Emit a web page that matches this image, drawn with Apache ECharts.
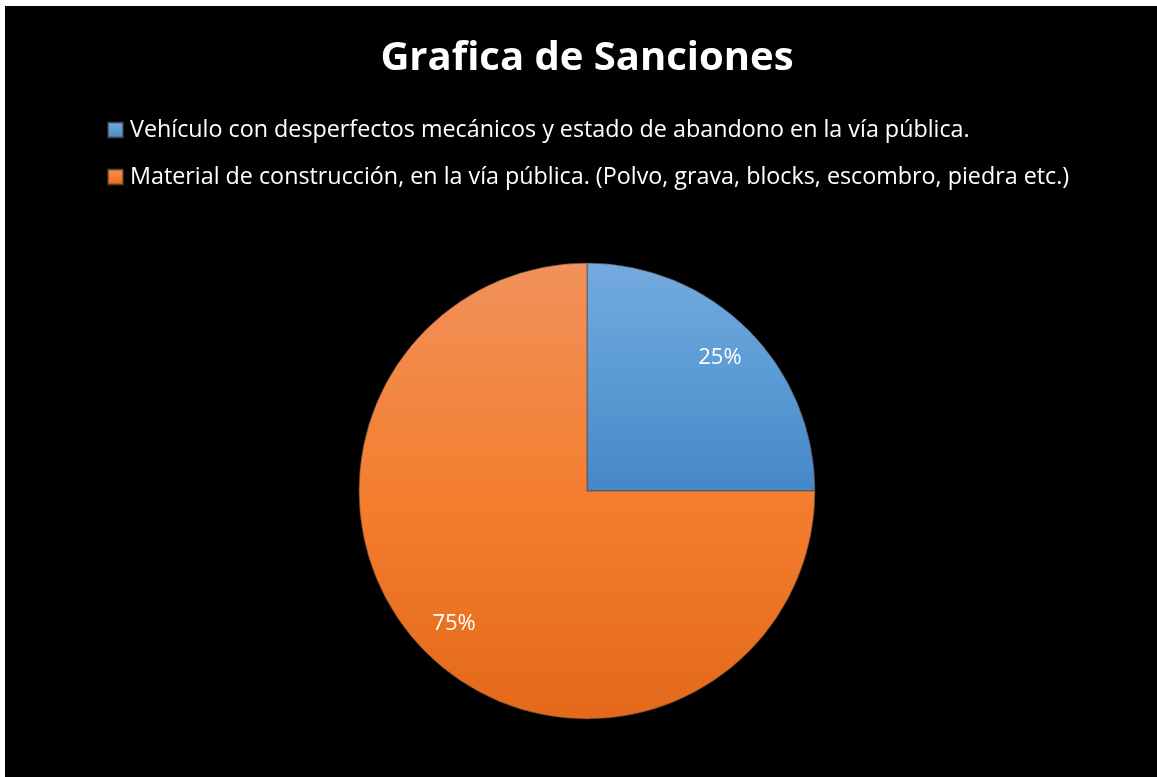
<!DOCTYPE html>
<html>
<head>
<meta charset="utf-8">
<script src="https://cdn.jsdelivr.net/npm/echarts@6/dist/echarts.min.js"></script>
<style>
html,body{margin:0;padding:0;background:#fff;width:1157px;height:777px;overflow:hidden;}
#c{position:absolute;left:5px;top:6px;width:1152px;height:771px;background:#000;}
</style>
</head>
<body>
<div id="c"></div>
<script>
const titleText = 'Grafica de Sanciones';
const categories = [
  'Vehículo con desperfectos mecánicos y estado de abandono en la vía pública.',
  'Material de construcción, en la vía pública. (Polvo, grava, blocks, escombro, piedra etc.)'
];
const values = [25, 75];
const gradients = [
  ['#74aade', '#5b9bd5', '#4687c7'],
  ['#f1915c', '#f47e2f', '#e4691a']
];
const FONT = '"Open Sans", Lato, sans-serif';

const chart = echarts.init(document.getElementById('c'), null, {renderer: 'canvas'});
const mainData = categories.map((n, i) => ({
  name: n, value: values[i],
  itemStyle: {
    color: {type: 'linear', x: 0, y: 0, x2: 0, y2: 1,
      colorStops: [{offset: 0, color: gradients[i][0]}, {offset: 0.5, color: gradients[i][1]}, {offset: 1, color: gradients[i][2]}]}
  }
}));
const labelData = categories.map((n, i) => ({name: n, value: values[i]}));
chart.setOption({
  backgroundColor: '#000',
  animation: false,
  title: {
    text: titleText, left: 577, top: 28, textAlign: 'center', padding: 5,
    textStyle: {color: '#fff', fontFamily: FONT, fontWeight: 'bold', fontSize: 40}
  },
  legend: {
    orient: 'vertical', left: 102, top: 111, padding: 0,
    icon: 'rect', itemWidth: 15, itemHeight: 15, itemGap: 21,
    data: categories,
    textStyle: {color: '#fff', fontFamily: FONT, fontSize: 23.3, lineHeight: 26, padding: [0, 0, 0, 2]}
  },
  series: [{
    type: 'pie', center: [582, 485], radius: [0, 228],
    startAngle: 90, clockwise: true,
    data: mainData,
    itemStyle: {borderColor: 'rgba(80,60,50,0.6)', borderWidth: 1},
    label: {show: false}, labelLine: {show: false},
    silent: true
  }, {
    type: 'pie', center: [582, 485], radius: [142, 228],
    startAngle: 90, clockwise: true,
    data: labelData,
    itemStyle: {color: 'rgba(0,0,0,0)'},
    label: {show: true, position: 'inside', color: '#fff', fontFamily: FONT, fontSize: 22,
      formatter: p => Math.round(p.percent) + '%'},
    labelLine: {show: false},
    silent: true
  }]
});
</script>
</body>
</html>
